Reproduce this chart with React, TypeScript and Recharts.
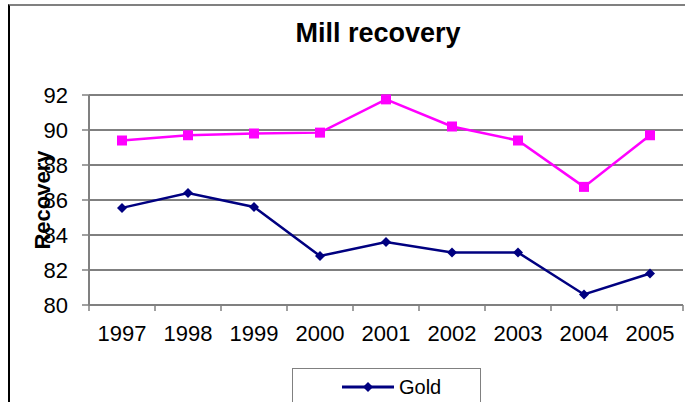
import { LineChart, Line, XAxis, YAxis, CartesianGrid, Legend } from 'recharts'

const years = ['1997', '1998', '1999', '2000', '2001', '2002', '2003', '2004', '2005']
const gold = [85.55, 86.4, 85.6, 82.8, 83.6, 83.0, 83.0, 80.6, 81.8]
const silver = [89.4, 89.7, 89.8, 89.85, 91.75, 90.2, 89.4, 86.75, 89.7]
const yTicks = [80, 82, 84, 86, 88, 90, 92]

const data = years.map((year, i) => ({ year, gold: gold[i], silver: silver[i] }))

const PLOT_LEFT = 89
const PLOT_RIGHT = 683
const halfBand = (PLOT_RIGHT - PLOT_LEFT) / years.length / 2

const font = '"Liberation Sans", Arial, sans-serif'

function YearTick({ x, y, payload, index }: any) {
  return (
    <g>
      <line x1={x - halfBand} y1={y} x2={x - halfBand} y2={y + 6} stroke="#808080" strokeWidth={1.5} />
      {index === years.length - 1 && (
        <line x1={x + halfBand} y1={y} x2={x + halfBand} y2={y + 6} stroke="#808080" strokeWidth={1.5} />
      )}
      <text x={x} y={y + 36} textAnchor="middle" fontSize={22} fontFamily={font} fill="#000">
        {payload.value}
      </text>
    </g>
  )
}

function RecoveryLabel({ viewBox }: any) {
  const cx = viewBox.x + 13
  const cy = viewBox.y + viewBox.height / 2
  return (
    <text
      x={cx}
      y={cy}
      transform={`rotate(-90 ${cx} ${cy})`}
      textAnchor="middle"
      dominantBaseline="central"
      fontSize={22}
      fontWeight="bold"
      fontFamily={font}
      fill="#000"
    >
      Recovery
    </text>
  )
}

function Diamond({ cx, cy }: any) {
  if (cx == null || cy == null) return null
  return <path d={`M${cx},${cy - 5}L${cx + 5},${cy}L${cx},${cy + 5}L${cx - 5},${cy}Z`} fill="#000080" />
}

function Square({ cx, cy }: any) {
  if (cx == null || cy == null) return null
  return <rect x={cx - 5} y={cy - 5} width={10} height={10} fill="#FF00FF" />
}

function LegendBox() {
  return (
    <div style={{ width: 189, height: 60, border: '1.5px solid #808080', boxSizing: 'border-box', fontFamily: font, fontSize: 20 }}>
      <div style={{ display: 'flex', alignItems: 'center', height: 24, marginTop: 6, paddingLeft: 48 }}>
        <svg width={54} height={12}>
          <line x1={1} y1={6} x2={53} y2={6} stroke="#000080" strokeWidth={3} />
          <path d="M27,1L32,6L27,11L22,6Z" fill="#000080" />
        </svg>
        <span style={{ marginLeft: 4 }}>Gold</span>
      </div>
    </div>
  )
}

export default function App() {
  return (
    <div style={{ position: 'fixed', left: 0, top: 0, width: 685, height: 402, background: '#fff', overflow: 'hidden' }}>
      <div
        style={{
          position: 'absolute',
          left: 8,
          top: 4,
          width: 700,
          height: 420,
          borderTop: '2px solid #808080',
          borderLeft: '2px solid #000',
        }}
      />
      <div
        style={{
          position: 'absolute',
          left: 0,
          width: 756,
          top: 18,
          textAlign: 'center',
          fontFamily: font,
          fontWeight: 'bold',
          fontSize: 27,
          color: '#000',
        }}
      >
        Mill recovery
      </div>
      <div style={{ position: 'absolute', left: 0, top: 0 }}>
        <LineChart width={685} height={402} data={data} margin={{ top: 95, right: 2, bottom: 2, left: 29 }}>
          <CartesianGrid vertical={false} stroke="#000" strokeWidth={1} />
          <XAxis
            dataKey="year"
            height={35}
            padding={{ left: halfBand, right: halfBand }}
            axisLine={{ stroke: '#808080', strokeWidth: 2 }}
            tickLine={false}
            tickSize={0}
            tickMargin={0}
            tick={<YearTick />}
            interval={0}
          />
          <XAxis xAxisId="top" dataKey="year" orientation="top" height={0} tick={false} tickLine={false} axisLine={{ stroke: '#808080', strokeWidth: 2 }} />
          <YAxis
            width={60}
            domain={[80, 92]}
            ticks={yTicks}
            interval={0}
            axisLine={{ stroke: '#808080', strokeWidth: 2 }}
            tickLine={{ stroke: '#808080', strokeWidth: 1.5 }}
            tickSize={7}
            tickMargin={14}
            tick={{ fontSize: 22, fontFamily: font, fill: '#000' }}
            label={<RecoveryLabel />}
          />
          <YAxis yAxisId="right" orientation="right" width={0} tick={false} tickLine={false} axisLine={{ stroke: '#808080', strokeWidth: 2 }} />
          <Legend
            content={<LegendBox />}
            wrapperStyle={{ position: 'absolute', left: 292, top: 368, width: 189, height: 60 }}
          />
          <Line
            type="linear"
            dataKey="silver"
            name="Silver"
            stroke="#FF00FF"
            strokeWidth={2.5}
            dot={<Square />}
            activeDot={false}
            isAnimationActive={false}
          />
          <Line
            type="linear"
            dataKey="gold"
            name="Gold"
            stroke="#000080"
            strokeWidth={2.5}
            dot={<Diamond />}
            activeDot={false}
            isAnimationActive={false}
          />
        </LineChart>
      </div>
    </div>
  )
}
